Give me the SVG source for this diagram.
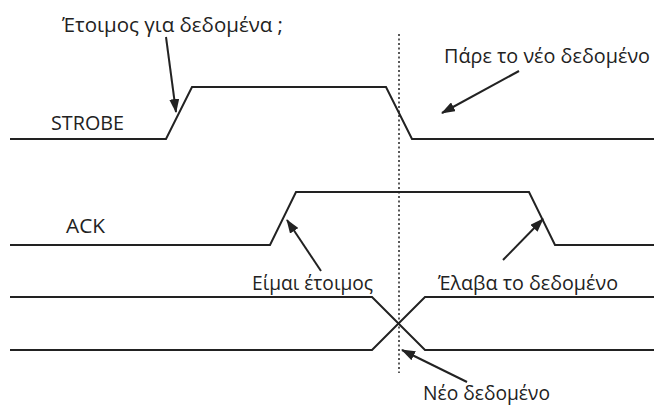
<svg xmlns="http://www.w3.org/2000/svg" width="654" height="405" viewBox="0 0 654 405">
<style>
.sig{fill:none;stroke:#222;stroke-width:2;stroke-linejoin:miter}
.lbl{font-family:"Open Sans","Noto Sans",sans-serif;font-size:20px;fill:#222}
.arr{stroke:#222;stroke-width:2;fill:none;marker-end:url(#ah)}
.dot{stroke:#222;stroke-width:1.5;stroke-dasharray:2,2.5;fill:none}
</style>
<defs>
<marker id="ah" viewBox="0 0 14 10" refX="13" refY="5" markerWidth="14" markerHeight="10" markerUnits="userSpaceOnUse" orient="auto">
<path d="M0,0 L14,5 L0,10 Z" fill="#222"/>
</marker>
</defs>
<rect width="654" height="405" fill="#fff"/>
<g id="strobe">
<polyline class="sig" points="10,139 166,139 192,87 386,87 412,139 654,139"/>
<text class="lbl" x="51" y="130" textLength="73" lengthAdjust="spacingAndGlyphs">STROBE</text>
</g>
<g id="ack">
<polyline class="sig" points="10,245 270,245 296,192 529,192 555,245 654,245"/>
<text class="lbl" x="66" y="233" textLength="39" lengthAdjust="spacingAndGlyphs">ACK</text>
</g>
<g id="data">
<polyline class="sig" points="10,297 372,297 425,350 654,350"/>
<polyline class="sig" points="10,350 372,350 425,297 654,297"/>
</g>
<g id="marker-line">
<line class="dot" x1="399" y1="34" x2="399" y2="373"/>
</g>
<g id="label-ready-q">
<text class="lbl" x="62" y="32" textLength="221" lengthAdjust="spacingAndGlyphs">Έτοιμος για δεδομένα ;</text>
</g>
<g id="label-take">
<text class="lbl" x="444" y="63" textLength="206" lengthAdjust="spacingAndGlyphs">Πάρε το νέο δεδομένο</text>
</g>
<g id="label-ready">
<text class="lbl" x="252" y="290" textLength="121" lengthAdjust="spacingAndGlyphs">Είμαι έτοιμος</text>
</g>
<g id="label-got">
<text class="lbl" x="438" y="290" textLength="180" lengthAdjust="spacingAndGlyphs">Έλαβα το δεδομένο</text>
</g>
<g id="label-new">
<text class="lbl" x="423" y="400" textLength="127" lengthAdjust="spacingAndGlyphs">Νέο δεδομένο</text>
</g>
<g id="connectors">
<line class="arr" x1="166" y1="37" x2="176" y2="112"/>
<line class="arr" x1="519" y1="71" x2="442" y2="113"/>
<line class="arr" x1="321" y1="271" x2="287" y2="220"/>
<line class="arr" x1="503" y1="260" x2="543" y2="219"/>
<line class="arr" x1="467" y1="382" x2="402" y2="350"/>
</g>
</svg>
